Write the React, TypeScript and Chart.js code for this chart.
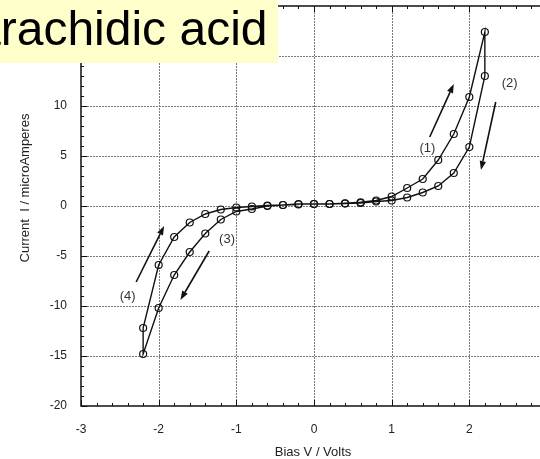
import React, { useEffect, useRef } from 'react';
import { Chart, registerables } from 'chart.js';

Chart.register(...registerables);

const FONT = "'Liberation Sans', Arial, Helvetica, sans-serif";

const titleText = 'arachidic acid';
const xAxisTitle = 'Bias V / Volts';
const yAxisTitle = 'Current  I / microAmperes';

const xTickValues = [-3, -2, -1, 0, 1, 2];
const xGridValues = [-2, -1, 0, 1, 2];
const yGridValues = [-15, -10, -5, 0, 5, 10, 15];
const xMin = -3;
const xMax = 2.91;
const yMin = -20;
const yMax = 20;
const yTickStep = 5;

// (1) forward sweep, positive bias
const sweep1V = [0, 0.2, 0.4, 0.6, 0.8, 1.0, 1.2, 1.4, 1.6, 1.8, 2.0, 2.2];
const sweep1I = [0.2, 0.2, 0.27, 0.37, 0.55, 0.95, 1.8, 2.7, 4.6, 7.2, 10.9, 17.4];
// (2) reverse sweep, positive bias
const sweep2V = [2.2, 2.0, 1.8, 1.6, 1.4, 1.2, 1.0, 0.8, 0.6, 0.4, 0.2];
const sweep2I = [13.0, 5.9, 3.3, 2.0, 1.35, 0.85, 0.55, 0.45, 0.3, 0.25, 0.2];
// (3) forward sweep, negative bias
const sweep3V = [0, -0.2, -0.4, -0.6, -0.8, -1.0, -1.2, -1.4, -1.6, -1.8, -2.0, -2.2];
const sweep3I = [0.2, 0.2, 0.1, 0.0, -0.3, -0.55, -1.35, -2.75, -4.6, -6.9, -10.2, -14.8];
// (4) reverse sweep, negative bias
const sweep4V = [-2.2, -2.0, -1.8, -1.6, -1.4, -1.2, -1.0, -0.8, -0.6, -0.4, -0.2];
const sweep4I = [-12.2, -5.9, -3.1, -1.65, -0.8, -0.35, -0.15, -0.05, 0.05, 0.1, 0.15];

// annotation labels and arrows (data coordinates)
const annLabels = ['(1)', '(2)', '(3)', '(4)'];
const annLabelV = [1.46, 2.52, -1.12, -2.4];
const annLabelI = [5.8, 12.3, -3.3, -9.0];
const arrowFromV = [1.49, 2.34, -1.35, -2.29];
const arrowFromI = [6.9, 10.4, -4.5, -7.6];
const arrowToV = [1.8, 2.15, -1.72, -1.93];
const arrowToI = [12.2, 3.6, -9.4, -2.0];

export default function App() {
  const ref = useRef<HTMLCanvasElement>(null);

  useEffect(() => {
    document.body.style.margin = '0';
    const canvas = ref.current;
    if (!canvas) return;

    const pts = (vs: number[], is: number[]) => vs.map((v, k) => ({ x: v, y: is[k] }));
    const loop = [
      ...pts(sweep1V, sweep1I),
      ...pts(sweep2V, sweep2I),
      ...pts(sweep3V, sweep3I),
      ...pts(sweep4V, sweep4I),
    ];

    const decor = {
      id: 'decor',
      beforeDatasetsDraw(chart: any) {
        const { ctx, chartArea: ca, scales } = chart;
        const xs = scales.x;
        const ys = scales.y;
        ctx.save();
        // dotted grid
        ctx.strokeStyle = '#7a7a7a';
        ctx.lineWidth = 1;
        ctx.setLineDash([2, 1]);
        xGridValues.forEach((v) => {
          const px = Math.round(xs.getPixelForValue(v)) + 0.5;
          ctx.beginPath();
          ctx.moveTo(px, ca.top);
          ctx.lineTo(px, ca.bottom);
          ctx.stroke();
        });
        yGridValues.forEach((v) => {
          const py = Math.round(ys.getPixelForValue(v)) + 0.5;
          ctx.beginPath();
          ctx.moveTo(ca.left, py);
          ctx.lineTo(ca.right, py);
          ctx.stroke();
        });
        ctx.setLineDash([]);
        // minor/major tick marks
        ctx.strokeStyle = '#111';
        ctx.lineWidth = 1;
        for (let i = Math.ceil(xMin * 5); i <= Math.floor(xMax * 5); i++) {
          const px = Math.round(xs.getPixelForValue(i / 5)) + 0.5;
          const len = i % 5 === 0 ? 6 : 3;
          ctx.beginPath();
          ctx.moveTo(px, ca.bottom);
          ctx.lineTo(px, ca.bottom - len);
          ctx.moveTo(px, ca.top);
          ctx.lineTo(px, ca.top + len);
          ctx.stroke();
        }
        for (let j = yMin; j <= yMax; j++) {
          const py = Math.round(ys.getPixelForValue(j)) + 0.5;
          const len = j % 5 === 0 ? 6 : 3;
          ctx.beginPath();
          ctx.moveTo(ca.left, py);
          ctx.lineTo(ca.left + len, py);
          ctx.stroke();
        }
        // axes frame
        ctx.strokeStyle = '#111';
        ctx.lineWidth = 1.5;
        ctx.beginPath();
        ctx.moveTo(ca.right, ca.top);
        ctx.lineTo(ca.left, ca.top);
        ctx.lineTo(ca.left, ca.bottom);
        ctx.lineTo(ca.right, ca.bottom);
        ctx.stroke();
        ctx.restore();
      },
      afterDatasetsDraw(chart: any) {
        const { ctx, scales } = chart;
        const xs = scales.x;
        const ys = scales.y;
        ctx.save();
        // annotation labels
        ctx.fillStyle = '#333';
        ctx.font = `13px ${FONT}`;
        ctx.textAlign = 'center';
        ctx.textBaseline = 'middle';
        annLabels.forEach((t, k) => {
          ctx.fillText(t, xs.getPixelForValue(annLabelV[k]), ys.getPixelForValue(annLabelI[k]));
        });
        // arrows
        ctx.strokeStyle = '#111';
        ctx.fillStyle = '#111';
        ctx.lineWidth = 1.6;
        arrowFromV.forEach((v, k) => {
          const x1 = xs.getPixelForValue(v);
          const y1 = ys.getPixelForValue(arrowFromI[k]);
          const x2 = xs.getPixelForValue(arrowToV[k]);
          const y2 = ys.getPixelForValue(arrowToI[k]);
          const a = Math.atan2(y2 - y1, x2 - x1);
          const hl = 9;
          const hw = 3.2;
          const bx = x2 - hl * Math.cos(a);
          const by = y2 - hl * Math.sin(a);
          ctx.beginPath();
          ctx.moveTo(x1, y1);
          ctx.lineTo(bx, by);
          ctx.stroke();
          ctx.beginPath();
          ctx.moveTo(x2, y2);
          ctx.lineTo(bx + hw * Math.sin(a), by - hw * Math.cos(a));
          ctx.lineTo(bx - hw * Math.sin(a), by + hw * Math.cos(a));
          ctx.closePath();
          ctx.fill();
        });
        ctx.restore();
      },
      afterDraw(chart: any) {
        const { ctx, chartArea: ca } = chart;
        ctx.save();
        // axis titles
        ctx.fillStyle = '#222';
        ctx.font = `13px ${FONT}`;
        ctx.textAlign = 'center';
        ctx.textBaseline = 'middle';
        ctx.fillText(xAxisTitle, 313, ca.bottom + 46);
        ctx.translate(25, (ca.top + ca.bottom) / 2 - 18);
        ctx.rotate(-Math.PI / 2);
        ctx.fillText(yAxisTitle, 0, 0);
        ctx.restore();
        // slide title box
        ctx.save();
        ctx.fillStyle = '#FFFFCC';
        ctx.fillRect(0, 0, 278, 63);
        ctx.fillStyle = '#000';
        ctx.font = `48px ${FONT}`;
        ctx.textAlign = 'left';
        ctx.textBaseline = 'alphabetic';
        ctx.fillText(titleText, -26, 45);
        ctx.restore();
      },
    };

    const chart = new Chart(canvas, {
      type: 'scatter',
      data: {
        datasets: [
          {
            data: loop,
            showLine: true,
            borderColor: '#111',
            borderWidth: 1.4,
            tension: 0,
            pointRadius: 3.5,
            pointBorderWidth: 1.2,
            pointBorderColor: '#111',
            pointBackgroundColor: 'rgba(255,255,255,0)',
          },
        ],
      },
      options: {
        responsive: false,
        animation: false,
        layout: { autoPadding: false, padding: { top: 6, right: 0, left: 0, bottom: 0 } },
        plugins: { legend: { display: false }, tooltip: { enabled: false } },
        scales: {
          x: {
            type: 'linear',
            min: xMin,
            max: xMax,
            afterBuildTicks: (s: any) => {
              s.ticks = xTickValues.map((v) => ({ value: v }));
            },
            afterFit: (s: any) => {
              s.height = 53;
              s.paddingLeft = 0;
              s.paddingRight = 0;
            },
            grid: { display: false, drawTicks: false },
            border: { display: false },
            ticks: {
              padding: 16,
              color: '#222',
              font: { family: FONT, size: 12 },
              autoSkip: false,
              maxRotation: 0,
            },
          },
          y: {
            type: 'linear',
            min: yMin,
            max: yMax,
            afterFit: (s: any) => {
              s.width = 81;
              s.paddingTop = 0;
              s.paddingBottom = 0;
            },
            grid: { display: false, drawTicks: false },
            border: { display: false },
            ticks: {
              stepSize: yTickStep,
              padding: 14,
              color: '#222',
              font: { family: FONT, size: 12 },
            },
          },
        },
      },
      plugins: [decor],
    });

    return () => chart.destroy();
  }, []);

  return (
    <canvas
      ref={ref}
      width={540}
      height={459}
      style={{ display: 'block', width: 540, height: 459 }}
    />
  );
}
